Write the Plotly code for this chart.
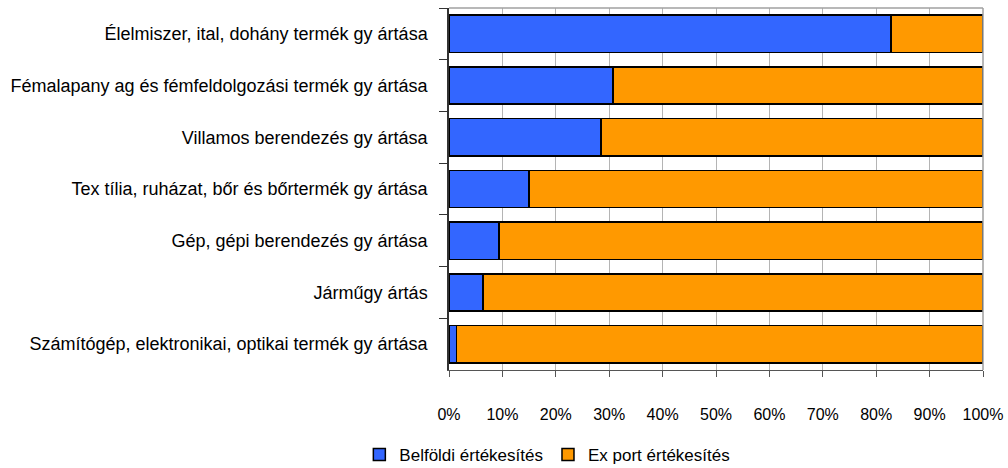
import plotly.graph_objects as go

categories = [
    "Élelmiszer, ital, dohány termék gy ártása",
    "Fémalapany ag és fémfeldolgozási termék gy ártása",
    "Villamos berendezés gy ártása",
    "Tex tília, ruházat, bőr és bőrtermék gy ártása",
    "Gép, gépi berendezés gy ártása",
    "Járműgy ártás",
    "Számítógép, elektronikai, optikai termék gy ártása",
]
belfoldi = [82.8, 30.7, 28.5, 15.0, 9.4, 6.4, 1.4]
export = [100 - v for v in belfoldi]
x_ticks = [0, 10, 20, 30, 40, 50, 60, 70, 80, 90, 100]
x_tick_labels = [f"{t}%" for t in x_ticks]

fam = "Liberation Sans, Arial, sans-serif"

fig = go.Figure()
fig.add_trace(go.Bar(
    y=categories, x=belfoldi, orientation="h", name="Belföldi értékesítés",
    marker=dict(color="#3366FF", line=dict(color="#000000", width=1.5)),
))
fig.add_trace(go.Bar(
    y=categories, x=export, orientation="h", name="Ex port értékesítés",
    marker=dict(color="#FF9900", line=dict(color="#000000", width=1.5)),
))

fig.update_layout(
    barmode="stack",
    bargap=0.28,
    width=1008, height=468,
    margin=dict(l=449, r=25, t=8, b=98, autoexpand=False),
    paper_bgcolor="#FFFFFF", plot_bgcolor="#FFFFFF",
    font=dict(family=fam, size=17, color="#000000"),
    showlegend=True,
    legend=dict(orientation="h", xref="container", yref="container",
                x=0.543, xanchor="center", y=0.028, yanchor="middle",
                font=dict(family=fam, size=17, color="#000000"),
                traceorder="normal"),
    xaxis=dict(range=[0, 100], tickvals=x_ticks, ticktext=x_tick_labels,
               tickfont=dict(family=fam, size=16, color="#000000"),
               showgrid=True, gridcolor="#B4B4B4", gridwidth=1,
               showline=True, linecolor="#555555", linewidth=1,
               ticks="outside", ticklen=6, tickcolor="#555555",
               zeroline=False, fixedrange=True, ticklabelstandoff=24,
               automargin=False),
    yaxis=dict(categoryorder="array", categoryarray=categories,
               autorange="reversed", tickson="boundaries",
               tickfont=dict(family=fam, size=18, color="#000000"),
               showline=True, linecolor="#333333", linewidth=1.5,
               ticks="outside", ticklen=8, tickcolor="#333333",
               showgrid=False, ticklabelstandoff=16, automargin=False,
               fixedrange=True),
    shapes=[
        dict(type="line", xref="paper", yref="paper", x0=0, x1=1, y0=1, y1=1,
             line=dict(color="#A0A0A0", width=1.5)),
        dict(type="line", xref="paper", yref="paper", x0=1, x1=1, y0=0, y1=1,
             line=dict(color="#A0A0A0", width=1.5)),
    ],
)

fig.write_html("out.html", config={"displayModeBar": False},
               post_script="document.body.style.margin='0';document.body.style.padding='0';")
